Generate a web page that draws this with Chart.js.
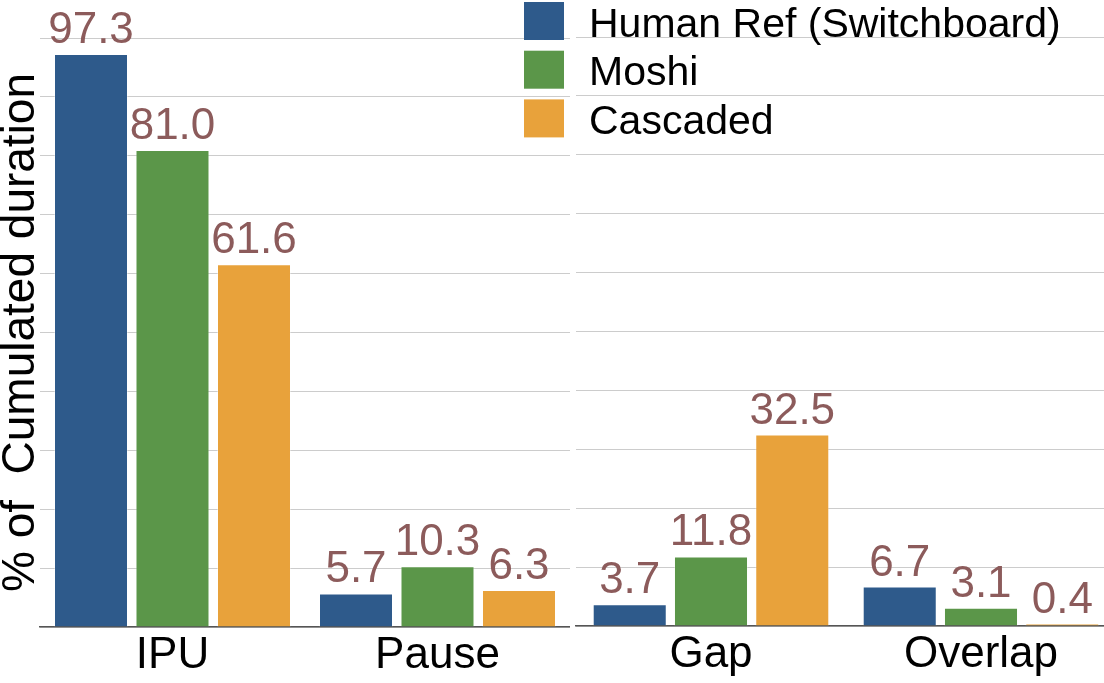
<!DOCTYPE html>
<html>
<head>
<meta charset="utf-8">
<script src="https://cdn.jsdelivr.net/npm/chart.js@4.4.1/dist/chart.umd.min.js"></script>
<style>
html,body{margin:0;padding:0;background:#ffffff;}
#wrap{position:relative;width:1104px;height:683px;overflow:hidden;background:#ffffff;}
#cA,#cB{position:absolute;left:0;top:0;}
</style>
</head>
<body>
<div id="wrap">
<canvas id="cA" width="570" height="683"></canvas>
<canvas id="cB" width="1120" height="683"></canvas>
</div>
<script>
// ---- data ----
const leftCategories = ['IPU', 'Pause'];
const rightCategories = ['Gap', 'Overlap'];
const seriesNames = ['Human Ref (Switchboard)', 'Moshi', 'Cascaded'];
const humanRef = [97.3, 5.7, 3.7, 6.7];
const moshi = [81.0, 10.3, 11.8, 3.1];
const cascaded = [61.6, 6.3, 32.5, 0.4];
const yAxisTitle = '% of  Cumulated duration';
const yMin = 0;
const yMax = 100;
const yStep = 10;

// ---- styles ----
const FONT = "'Liberation Sans', Arial, Helvetica, sans-serif";
const seriesColors = ['#2e5a8b', '#5b9649', '#e8a23b'];
const labelColor = '#8c5b5b';
const gridColor = '#cccccc';
const axisColor = '#555555';

const seriesValues = [humanRef, moshi, cascaded];

function buildDatasets(start, end, cp, bp) {
  return seriesNames.map((name, i) => ({
    label: name,
    data: seriesValues[i].slice(start, end),
    backgroundColor: seriesColors[i],
    borderColor: 'rgba(255,255,255,0.35)',
    borderWidth: 1,
    categoryPercentage: cp,
    barPercentage: bp
  }));
}

const valueLabels = {
  id: 'valueLabels',
  afterDatasetsDraw(chart) {
    const ctx = chart.ctx;
    ctx.save();
    ctx.font = '44px ' + FONT;
    ctx.fillStyle = labelColor;
    ctx.textAlign = 'center';
    ctx.textBaseline = 'alphabetic';
    chart.data.datasets.forEach((ds, di) => {
      const meta = chart.getDatasetMeta(di);
      meta.data.forEach((bar, i) => {
        const v = ds.data[i];
        ctx.fillText(v.toFixed(1), bar.x, bar.y - 11);
      });
    });
    ctx.restore();
  }
};

const customLegend = {
  id: 'customLegend',
  afterDraw(chart) {
    const ctx = chart.ctx;
    ctx.save();
    ctx.font = '41px ' + FONT;
    ctx.textAlign = 'left';
    ctx.textBaseline = 'alphabetic';
    chart.data.datasets.forEach((ds, i) => {
      const top = 2 + i * 48.7;
      ctx.fillStyle = ds.backgroundColor;
      ctx.fillRect(524, top, 40, 38);
      ctx.fillStyle = '#000000';
      ctx.fillText(ds.label, 589, top + 34.5);
    });
    ctx.restore();
  }
};

function yScale(withTitle) {
  return {
    type: 'linear',
    min: yMin,
    max: yMax,
    ticks: { display: false, stepSize: yStep },
    grid: { color: gridColor, lineWidth: 1, drawTicks: false },
    border: { display: false },
    title: withTitle ? {
      display: true,
      text: yAxisTitle,
      color: '#000000',
      font: { family: FONT, size: 46, lineHeight: 0.91 },
      padding: 0
    } : { display: false },
    afterFit(s) { s.width = withTitle ? 40 : 0; }
  };
}

function xScale(h) {
  return {
    type: 'category',
    grid: { display: false, drawTicks: false },
    border: { display: true, color: axisColor, width: 1.5 },
    ticks: { color: '#000000', font: { family: FONT, size: 44, lineHeight: 1.2 }, padding: 2, maxRotation: 0, autoSkip: false },
    afterFit(s) { s.height = h; }
  };
}

new Chart(document.getElementById('cA'), {
  type: 'bar',
  data: { labels: leftCategories, datasets: buildDatasets(0, 2, 0.9226, 0.908) },
  options: {
    responsive: false,
    animation: false,
    events: [],
    layout: { padding: { left: 0, right: 0, top: 38, bottom: 0 } },
    plugins: { legend: { display: false }, tooltip: { enabled: false } },
    scales: { x: xScale(56), y: yScale(true) }
  },
  plugins: [valueLabels]
});

new Chart(document.getElementById('cB'), {
  type: 'bar',
  data: { labels: rightCategories, datasets: buildDatasets(2, 4, 0.903, 0.911) },
  options: {
    responsive: false,
    animation: false,
    events: [],
    layout: { padding: { left: 576, right: 4, top: 37, bottom: 0 } },
    plugins: { legend: { display: false }, tooltip: { enabled: false } },
    scales: { x: xScale(57), y: yScale(false) }
  },
  plugins: [valueLabels, customLegend]
});
</script>
</body>
</html>
